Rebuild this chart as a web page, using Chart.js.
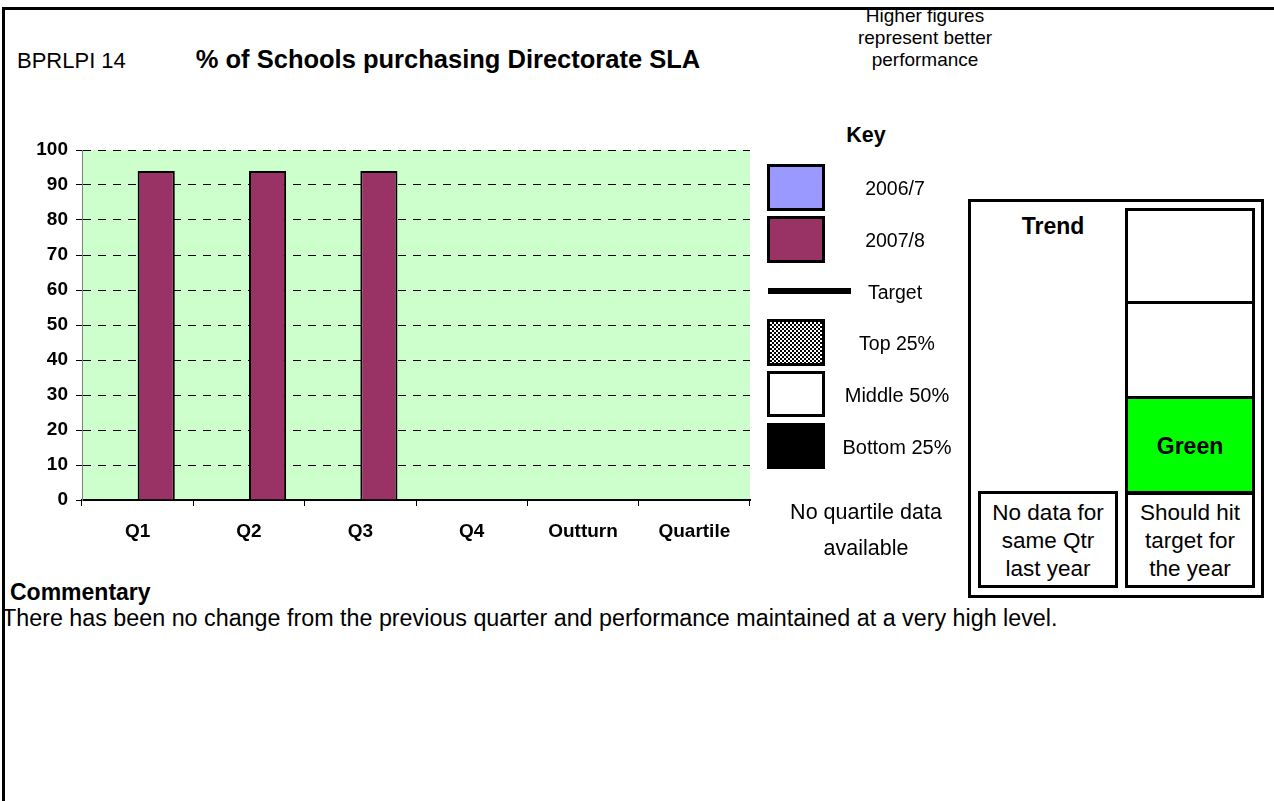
<!DOCTYPE html>
<html>
<head>
<meta charset="utf-8">
<script src="https://cdn.jsdelivr.net/npm/chart.js@4.4.0/dist/chart.umd.min.js"></script>
<style>
  html, body { margin:0; padding:0; background:#fff; width:1274px; height:801px; overflow:hidden; font-family:"Liberation Sans", Arial, sans-serif; color:#000; }
  .abs { position:absolute; white-space:nowrap; }
  .c { transform:translate(-50%,-50%); text-align:center; }
  .frame { position:absolute; left:2px; top:7px; width:1290px; height:820px; border-top:3px solid #000; border-left:3px solid #000; }
  .box { position:absolute; box-sizing:border-box; }
  #chartWrap { position:absolute; left:0; top:130px; width:770px; height:440px; }
</style>
</head>
<body>
<div class="frame"></div>

<div class="abs" style="left:17px; top:61px; transform:translateY(-50%); font-size:22px;">BPRLPI 14</div>
<div class="abs c" style="left:448px; top:59px; font-size:25.5px; font-weight:bold;">% of Schools purchasing Directorate SLA</div>
<div class="abs c" style="left:925px; top:38px; font-size:19px; line-height:22px;">Higher figures<br>represent better<br>performance</div>
<div class="abs c" style="left:866px; top:135px; font-size:21.5px; font-weight:bold;">Key</div>

<div id="chartWrap"><canvas id="chart" width="770" height="440"></canvas></div>

<!-- Key -->
<div class="box" style="left:767px; top:164px; width:58px; height:47px; border:3px solid #000; background:#9999FF;"></div>
<div class="abs c" style="left:895px; top:188px; font-size:19.5px;">2006/7</div>
<div class="box" style="left:767px; top:216px; width:58px; height:47px; border:3px solid #000; background:#993366;"></div>
<div class="abs c" style="left:895px; top:240px; font-size:19.5px;">2007/8</div>
<div class="box" style="left:768px; top:288px; width:83px; height:6px; background:#000;"></div>
<div class="abs c" style="left:895px; top:292px; font-size:19.5px;">Target</div>
<div class="box" style="left:767px; top:319px; width:58px; height:47px; border:3px solid #000; background:repeating-conic-gradient(#000 0 25%, #fff 0 50%) 0 0/4px 4px;"></div>
<div class="abs c" style="left:897px; top:343px; font-size:19.5px;">Top 25%</div>
<div class="box" style="left:767px; top:371px; width:58px; height:46px; border:3px solid #000; background:#fff;"></div>
<div class="abs c" style="left:897px; top:395px; font-size:20px;">Middle 50%</div>
<div class="box" style="left:767px; top:423px; width:58px; height:46px; background:#000;"></div>
<div class="abs c" style="left:897px; top:447px; font-size:20px;">Bottom 25%</div>

<div class="abs c" style="left:866px; top:530px; font-size:21.5px; line-height:36px;">No quartile data<br>available</div>

<!-- Trend panel -->
<div class="box" style="left:968px; top:199px; width:296px; height:399px; border:3px solid #000;"></div>
<div class="abs c" style="left:1053px; top:226px; font-size:23px; font-weight:bold;">Trend</div>
<div class="box" style="left:1125px; top:208px; width:130px; height:96px; border:3px solid #000;"></div>
<div class="box" style="left:1125px; top:301px; width:130px; height:99px; border:3px solid #000;"></div>
<div class="box" style="left:1125px; top:396px; width:130px; height:99px; border:3px solid #000; background:#00FF00;"></div>
<div class="abs c" style="left:1190px; top:446px; font-size:23px; font-weight:bold;">Green</div>
<div class="box" style="left:1125px; top:491px; width:130px; height:97px; border:3px solid #000;"></div>
<div class="abs c" style="left:1190px; top:541px; font-size:22.5px; line-height:28px;">Should hit<br>target for<br>the year</div>
<div class="box" style="left:978px; top:491px; width:140px; height:97px; border:3px solid #000;"></div>
<div class="abs c" style="left:1048px; top:541px; font-size:22.5px; line-height:28px;">No data for<br>same Qtr<br>last year</div>

<div class="abs" style="left:10px; top:592px; transform:translateY(-50%); font-size:23px; font-weight:bold;">Commentary</div>
<div class="abs" style="left:2px; top:618px; transform:translateY(-50%); font-size:23.3px;">There has been no change from the previous quarter and performance maintained at a very high level.</div>

<script>
const categories = ['Q1', 'Q2', 'Q3', 'Q4', 'Outturn', 'Quartile'];
const values2006 = [null, null, null, null, null, null];
const values2007 = [94, 94, 94, null, null, null];
const yTicks = [0, 10, 20, 30, 40, 50, 60, 70, 80, 90, 100];

const plotBg = {
  id: 'plotBg',
  beforeDraw(chart) {
    const {ctx, chartArea: a} = chart;
    ctx.save();
    ctx.fillStyle = '#CCFFCC';
    ctx.fillRect(a.left, a.top, a.right - a.left, a.bottom - a.top);
    ctx.restore();
  }
};

new Chart(document.getElementById('chart'), {
  type: 'bar',
  data: {
    labels: categories,
    datasets: [
      { label: '2006/7', data: values2006, backgroundColor: '#9999FF', borderColor: '#000', borderWidth: 2 },
      { label: '2007/8', data: values2007, backgroundColor: '#993366', borderColor: '#000', borderWidth: 2 }
    ]
  },
  options: {
    responsive: false,
    animation: false,
    devicePixelRatio: 1,
    categoryPercentage: 0.667,
    barPercentage: 1.0,
    layout: { padding: { left: 0, right: 20, top: 20, bottom: 0 } },
    plugins: { legend: { display: false }, tooltip: { enabled: false } },
    scales: {
      x: {
        grid: { display: true, drawOnChartArea: false, drawTicks: true, tickLength: 6, color: '#000', lineWidth: 1, offset: true },
        border: { display: true, color: '#000', width: 2 },
        ticks: { color: '#000', font: { family: 'Liberation Sans, Arial', size: 19, weight: 'bold' }, padding: 14, maxRotation: 0 },
        afterFit(scale) { scale.height = 70; }
      },
      y: {
        min: 0, max: 100,
        afterBuildTicks(scale) { scale.ticks = yTicks.map(v => ({ value: v })); },
        grid: { display: true, drawOnChartArea: true, drawTicks: true, tickLength: 6, color: '#000', lineWidth: 1 },
        border: { display: true, color: '#808080', width: 1, dash: [8, 7] },
        ticks: { color: '#000', font: { family: 'Liberation Sans, Arial', size: 19, weight: 'bold' }, padding: 8 },
        afterFit(scale) { scale.width = 82; }
      }
    }
  },
  plugins: [plotBg]
});
</script>
</body>
</html>
